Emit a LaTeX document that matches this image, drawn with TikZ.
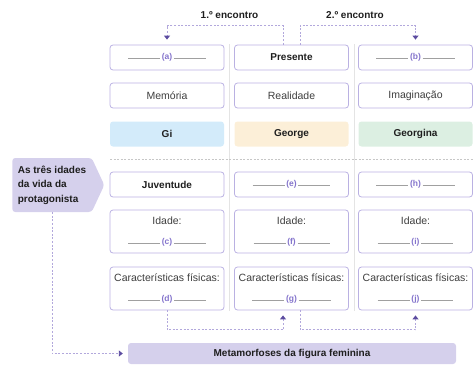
\documentclass[tikz,border=0pt]{standalone}
\usepackage{fontspec}
\setmainfont{Liberation Sans}
\usetikzlibrary{arrows.meta, positioning, calc, shapes.symbols}
\definecolor{boxline}{RGB}{186,177,226}
\definecolor{lavanda}{RGB}{213,208,236}
\definecolor{dotpurple}{RGB}{178,168,220}
\definecolor{arrowpurple}{RGB}{92,76,160}
\definecolor{blankpurple}{RGB}{132,116,204}
\definecolor{blankgray}{RGB}{160,160,160}
\definecolor{txtgray}{RGB}{62,62,62}
\definecolor{txtdark}{RGB}{30,30,30}
\definecolor{sepgray}{RGB}{228,228,228}
\definecolor{giblue}{RGB}{211,235,250}
\definecolor{georgeorange}{RGB}{252,239,216}
\definecolor{georginagreen}{RGB}{220,239,226}

\newcommand{\lacuna}[1]{\textcolor{blankgray}{\rule[0.6pt]{32pt}{0.8pt}}\,{\fontsize{8.5}{9}\selectfont\bfseries\textcolor{blankpurple}{(#1)}}\,\textcolor{blankgray}{\rule[0.6pt]{32pt}{0.8pt}}}

\begin{document}
\begin{tikzpicture}[x=1pt, y=1pt,
    caixa/.style={draw=boxline, line width=0.8pt, rounded corners=3pt, minimum width=114pt, minimum height=25pt, inner sep=0pt, text=txtgray, font=\fontsize{10.5}{19.5}\selectfont, align=center},
    alta/.style={caixa, minimum height=43pt},
    forte/.style={text=txtdark, font=\fontsize{10}{19}\selectfont\bfseries},
    nome/.style={caixa, draw=none, forte},
    conn/.style={draw=dotpurple, line width=0.9pt, dash pattern=on 2pt off 1.6pt, -{Triangle[width=6pt, length=4pt, color=arrowpurple]}, shorten >=5pt}
  ]
  \useasboundingbox (0,0) rectangle (473,365);

  % Separators
  \draw[sepgray, line width=0.9pt] (229,321) -- (229,54);
  \draw[sepgray, line width=0.9pt] (354,321) -- (354,54);
  \draw[black!22, line width=0.7pt, dash pattern=on 2pt off 1.5pt] (110,206) -- (473,206);

  % First row
  \node[caixa] (a) at (167,307.5) {\lacuna{a}};
  \node[caixa, forte] (pres) at (291.5,307.5) {Presente};
  \node[caixa] (b) at (415.5,307.5) {\lacuna{b}};

  \node[caixa] (mem) at (167,269.5) {Memória};
  \node[caixa] (real) at (291.5,269.5) {Realidade};
  \node[caixa] (imag) at (415.5,269.5) {Imaginação};

  \node[nome, fill=giblue] (gi) at (167,231) {Gi};
  \node[nome, fill=georgeorange] (george) at (291.5,231) {George};
  \node[nome, fill=georginagreen] (georgina) at (415.5,231) {Georgina};

  % Ages
  \node[caixa, forte] (juv) at (167,180.5) {Juventude};
  \node[caixa] (e) at (291.5,180.5) {\lacuna{e}};
  \node[caixa] (h) at (415.5,180.5) {\lacuna{h}};

  \node[alta] (c) at (167,133.5) {Idade:\\\lacuna{c}};
  \node[alta] (f) at (291.5,133.5) {Idade:\\\lacuna{f}};
  \node[alta] (i) at (415.5,133.5) {Idade:\\\lacuna{i}};

  \node[alta] (d) at (167,76.5) {Características físicas:\\\lacuna{d}};
  \node[alta] (g) at (291.5,76.5) {Características físicas:\\\lacuna{g}};
  \node[alta] (j) at (415.5,76.5) {Características físicas:\\\lacuna{j}};

  % Side tag and bottom bar
  \node[shape=signal, signal to=east, signal pointer angle=130, fill=lavanda, rounded corners=3pt,
    minimum width=92pt, minimum height=54pt, inner xsep=4pt, align=left, text=txtdark,
    font=\fontsize{10}{14.5}\selectfont\bfseries] (idades) at (52,180) {As três idades\\da vida da\\protagonista};
  \node[fill=lavanda, rounded corners=3pt, minimum width=328pt, minimum height=21pt, inner sep=0pt, forte] (meta) at (292,11.5) {Metamorfoses da figura feminina};

  % Encounters
  \node[forte] (enc1) at (229.5,350) {1.º encontro};
  \node[forte] (enc2) at (355,350) {2.º encontro};

  \draw[conn] ([xshift=-8.5pt]pres.north) -- ++(0,19) -| (a.north);
  \draw[conn] ([xshift=8.5pt]pres.north) -- ++(0,19) -| (b.north);
  \draw[conn] (d.south) -- ++(0,-19.5) -| ([xshift=-8.5pt]g.south);
  \draw[conn] ([xshift=8.5pt]g.south) -- ++(0,-19.5) -| (j.south);
  \draw[conn] (idades.south) |- (meta.west);
\end{tikzpicture}
\end{document}
